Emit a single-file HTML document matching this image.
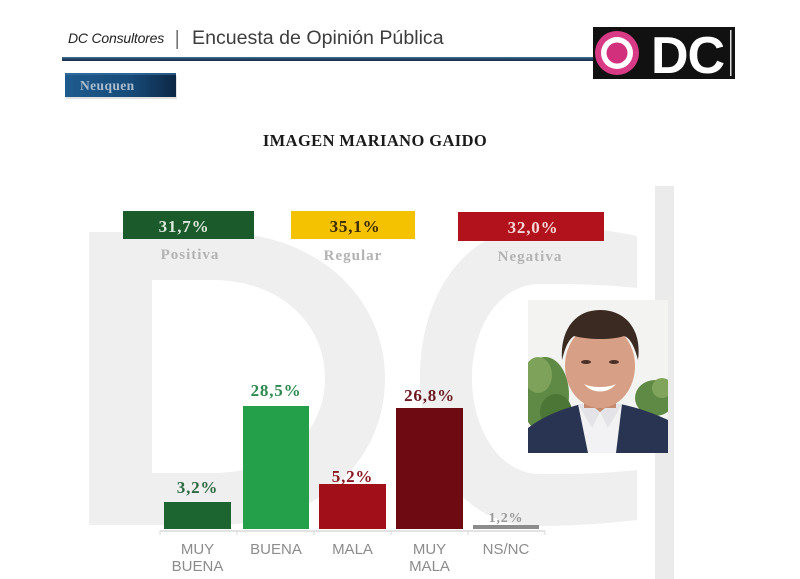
<!DOCTYPE html>
<html><head><meta charset="utf-8"><style>
html,body{margin:0;padding:0;background:#fff;}
body{width:800px;height:579px;overflow:hidden;}
svg{display:block;}
</style></head><body>
<svg width="800" height="579" viewBox="0 0 800 579" xmlns="http://www.w3.org/2000/svg">
<defs>
<linearGradient id="bl" x1="0" y1="0" x2="0" y2="1"><stop offset="0" stop-color="#4b7aa0"/><stop offset="0.4" stop-color="#27496a"/><stop offset="1" stop-color="#162f4a"/></linearGradient>
<linearGradient id="nb" x1="0" y1="0" x2="1" y2="0"><stop offset="0" stop-color="#1f5b8e"/><stop offset="0.6" stop-color="#174a78"/><stop offset="1" stop-color="#0c2744"/></linearGradient>
<clipPath id="ph"><rect x="528" y="300" width="140" height="153"/></clipPath>
</defs>

<!-- watermark -->
<path fill="#efefef" fill-rule="evenodd" d="M89,232 H215 C320,232 385,300 385,378 C385,460 320,525 215,525 H89 Z M152,280 H212 C282,280 325,325 325,378 C325,432 282,473 212,473 H152 Z"/>
<path fill="#efefef" d="M637,236 C600,228 570,228 535,228 C465,228 420,295 420,378 C420,462 465,526 535,526 C570,526 600,524 637,520 L637,470 C600,474 570,474 540,474 C500,474 472,430 472,378 C472,326 500,284 540,284 C570,284 600,284 637,288 Z"/>
<rect x="655" y="186" width="19" height="393" fill="#ebebeb"/>

<!-- header -->
<text x="68" y="43" font-family="Liberation Sans, sans-serif" font-style="italic" font-size="14" fill="#222" letter-spacing="-0.2">DC Consultores</text>
<rect x="176.5" y="30" width="1.3" height="19" fill="#555"/>
<text x="192" y="44" font-family="Liberation Sans, sans-serif" font-size="19.6" fill="#3d3d3d">Encuesta de Opinión Pública</text>
<rect x="62" y="57" width="533" height="4" fill="url(#bl)"/>

<!-- logo -->
<rect x="593" y="27" width="142" height="52" fill="#111"/>
<circle cx="617" cy="53" r="22" fill="#d83a86"/>
<circle cx="617" cy="53" r="16" fill="#fff"/>
<circle cx="617" cy="53" r="10.5" fill="#d2307c"/>
<text x="651" y="73" font-family="Liberation Sans, sans-serif" font-weight="bold" font-size="52" fill="#fff" letter-spacing="-1">DC</text>
<rect x="730" y="30" width="1.5" height="46" fill="#ddd"/>

<!-- Neuquen button -->
<rect x="66" y="76" width="111" height="23" fill="#cfcfcf" opacity="0.6"/>
<rect x="65" y="73" width="111" height="24" fill="url(#nb)"/>
<rect x="65" y="73" width="111" height="2" fill="#3a75a8" opacity="0.6"/>
<text x="80" y="90" font-family="Liberation Serif, serif" font-weight="bold" font-size="13.5" fill="#a9bdcf" letter-spacing="0.4">Neuquen</text>

<!-- title -->
<text x="375" y="146" text-anchor="middle" font-family="Liberation Serif, serif" font-weight="bold" font-size="16.5" fill="#1a1a1a" letter-spacing="0.4">IMAGEN MARIANO GAIDO</text>

<!-- summary boxes -->
<rect x="123" y="211" width="131" height="28" fill="#1b5a2b"/>
<text x="184" y="232" text-anchor="middle" font-family="Liberation Serif, serif" font-weight="bold" font-size="17" fill="#dbe8dc" letter-spacing="0.8">31,7%</text>
<rect x="291" y="211" width="124" height="28" fill="#f5c200"/>
<text x="355" y="232" text-anchor="middle" font-family="Liberation Serif, serif" font-weight="bold" font-size="17" fill="#3a2a06" letter-spacing="0.8">35,1%</text>
<rect x="458" y="212" width="146" height="29" fill="#b1121b"/>
<text x="533" y="233" text-anchor="middle" font-family="Liberation Serif, serif" font-weight="bold" font-size="17" fill="#f8d6d6" letter-spacing="0.8">32,0%</text>

<text x="190" y="259" text-anchor="middle" font-family="Liberation Serif, serif" font-weight="bold" font-size="15" fill="#b3b3b3" letter-spacing="1">Positiva</text>
<text x="353" y="260" text-anchor="middle" font-family="Liberation Serif, serif" font-weight="bold" font-size="15" fill="#b3b3b3" letter-spacing="1">Regular</text>
<text x="530" y="261" text-anchor="middle" font-family="Liberation Serif, serif" font-weight="bold" font-size="15" fill="#b3b3b3" letter-spacing="1">Negativa</text>

<!-- photo -->
<g clip-path="url(#ph)">
<rect x="528" y="300" width="140" height="153" fill="#f3f4f2"/>
<ellipse cx="545" cy="395" rx="24" ry="38" fill="#5f8a45"/>
<ellipse cx="538" cy="375" rx="14" ry="18" fill="#7ea25a"/>
<ellipse cx="556" cy="412" rx="16" ry="18" fill="#4c7636"/>
<ellipse cx="655" cy="398" rx="20" ry="18" fill="#5f8a45"/>
<ellipse cx="662" cy="388" rx="10" ry="10" fill="#80a45c"/>
<path d="M528,428 C545,415 565,408 582,404 L620,404 C640,408 655,414 668,420 L668,453 L528,453 Z" fill="#283452"/>
<path d="M578,404 L622,404 L616,453 L588,453 Z" fill="#f2f2f4"/>
<path d="M578,404 L592,428 L600,412 L608,428 L622,404 Z" fill="#e4e4e8"/>
<rect x="584" y="392" width="32" height="16" fill="#c48a6e"/>
<path d="M600,412 L590,404 L610,404 Z" fill="#c48a6e"/>
<ellipse cx="600" cy="366" rx="35" ry="42" fill="#d7a086"/>
<path d="M562,360 C560,330 575,310 600,310 C626,310 642,330 638,360 C634,345 630,338 624,336 C612,340 590,340 574,336 C568,340 565,348 562,360 Z" fill="#3b2a22"/>
<ellipse cx="586" cy="362" rx="5" ry="2" fill="#4a3026"/>
<ellipse cx="614" cy="362" rx="5" ry="2" fill="#4a3026"/>
<path d="M584,384 C592,394 608,394 616,384 C608,388 592,388 584,384 Z" fill="#fff"/>
</g>

<!-- axis -->
<line x1="160" y1="531" x2="545" y2="531" stroke="#dadada" stroke-width="1.5"/>
<g stroke="#dadada" stroke-width="1">
<line x1="160" y1="531" x2="160" y2="535"/><line x1="237" y1="531" x2="237" y2="535"/><line x1="314" y1="531" x2="314" y2="535"/><line x1="391" y1="531" x2="391" y2="535"/><line x1="468" y1="531" x2="468" y2="535"/><line x1="545" y1="531" x2="545" y2="535"/>
</g>

<!-- bars -->
<rect x="164" y="502" width="67" height="27" fill="#1c6531"/>
<rect x="243" y="406" width="66" height="123" fill="#25a04a"/>
<rect x="319" y="484" width="67" height="45" fill="#a10f19"/>
<rect x="396" y="408" width="67" height="121" fill="#6d0a12"/>
<rect x="473" y="525" width="66" height="4" fill="#8c8c8c"/>

<g font-family="Liberation Serif, serif" font-weight="bold" font-size="17" text-anchor="middle" letter-spacing="0.8">
<text x="197.5" y="493" fill="#2e6a44">3,2%</text>
<text x="276" y="396" fill="#2f8a50">28,5%</text>
<text x="352.5" y="482" fill="#8a1a22">5,2%</text>
<text x="429.5" y="401" fill="#6b1a22">26,8%</text>
<text x="506" y="522" fill="#9a9a9a" font-size="14">1,2%</text>
</g>

<g font-family="Liberation Sans, sans-serif" font-size="15" fill="#8c8c8c" text-anchor="middle">
<text x="197.5" y="554">MUY</text>
<text x="197.5" y="571">BUENA</text>
<text x="276" y="554">BUENA</text>
<text x="352.5" y="554">MALA</text>
<text x="429.5" y="554">MUY</text>
<text x="429.5" y="571">MALA</text>
<text x="506" y="554">NS/NC</text>
</g>
</svg>
</body></html>
